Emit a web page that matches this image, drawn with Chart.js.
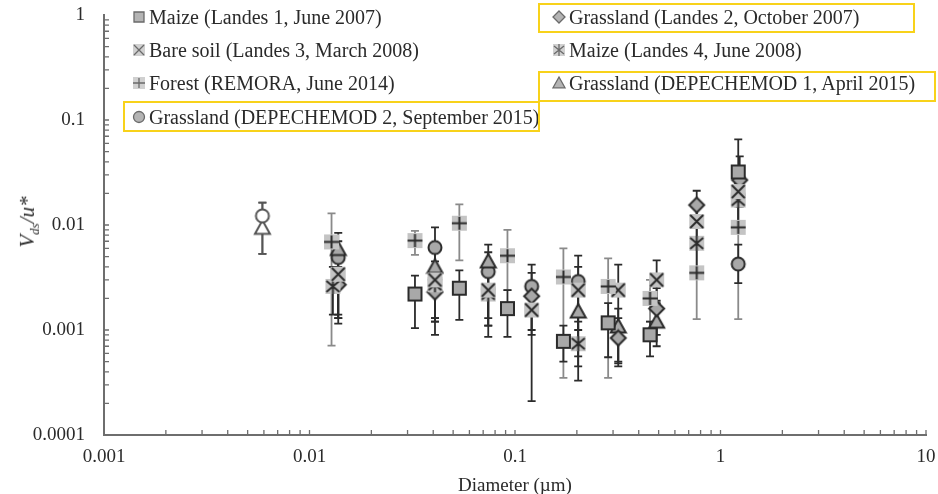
<!DOCTYPE html>
<html lang="en">
<head>
<meta charset="UTF-8">
<title>Vds/u* versus particle diameter</title>
<script src="https://cdn.jsdelivr.net/npm/chart.js"></script>
<style>
  body { margin: 0; background: #fff; font-family: 'Liberation Serif', 'DejaVu Serif', serif; color: #2a2a2a; }
  #wrap { position: relative; width: 938px; height: 494px; overflow: hidden; }
  #chart { position: absolute; left: 0; top: 0; }
  .leg { position: absolute; font-size: 20px; line-height: 22px; white-space: nowrap; display: flex; align-items: center; }
  .leg canvas { margin-right: 2px; }
  .box { position: absolute; border: 2.5px solid #f8d21a; box-sizing: border-box; }
  #ytitle { position: absolute; left: 29px; top: 222px; transform: translate(-50%, -50%) rotate(-90deg); font-size: 21px; font-style: italic; white-space: nowrap; }
  #ytitle sub { font-size: 13px; }
  #xtitle { position: absolute; left: 515px; top: 485px; transform: translate(-50%, -50%); font-size: 19px; white-space: nowrap; }
</style>
</head>
<body>
<div id="wrap">
  <canvas id="chart" width="938" height="494"></canvas>
  <div id="legend"></div>
  <div id="ytitle">V<sub>ds</sub>/u*</div>
  <div id="xtitle">Diameter (µm)</div>
</div>

<script>
  // axis labels
  const xTicks = [0.001, 0.01, 0.1, 1, 10];
  const yTicks = [0.0001, 0.001, 0.01, 0.1, 1];

  // each row: [diameter (µm), Vds/u*, lower bar, upper bar]
  const forestRemora = [
    [0.0128, 0.0069, 0.00071, 0.0129],
    [0.0326, 0.0071, 0.0052, 0.0088],
    [0.0536, 0.0104, 0.0046, 0.0157],
    [0.0919, 0.0051, 0.0024, 0.0090],
    [0.172, 0.0032, 0.00035, 0.0060],
    [0.284, 0.0026, 0.00035, 0.0048],
    [0.454, 0.0020, 0.0012, 0.0030],
    [0.766, 0.0035, 0.00127, 0.0060],
    [1.22, 0.0095, 0.00127, 0.0150]
  ];
  const maizeLandes1 = [
    [0.0326, 0.0022, 0.00104, 0.0033],
    [0.0536, 0.0025, 0.00125, 0.0037],
    [0.0919, 0.0016, 0.00086, 0.0024],
    [0.172, 0.00078, 0.0005, 0.0011],
    [0.284, 0.00117, 0.00055, 0.0018],
    [0.454, 0.0009, 0.00056, 0.0012],
    [1.22, 0.032, 0.018, 0.0655]
  ];
  const bareSoilLandes3 = [
    [0.0138, 0.0034, 0.00115, 0.0050],
    [0.0408, 0.0030, 0.0009, 0.0045],
    [0.0741, 0.0024, 0.00086, 0.0035],
    [0.1205, 0.00155, 0.00021, 0.0028],
    [0.203, 0.0024, 0.00056, 0.0040],
    [0.318, 0.0024, 0.00048, 0.0042],
    [0.489, 0.0030, 0.0018, 0.0046],
    [0.766, 0.0108, 0.0060, 0.0160],
    [1.22, 0.0208, 0.0100, 0.0300]
  ];
  const maizeLandes4 = [
    [0.0130, 0.0026, 0.0014, 0.0040],
    [0.0408, 0.0027, 0.0012, 0.0040],
    [0.0741, 0.0022, 0.0011, 0.0033],
    [0.203, 0.00074, 0.00033, 0.0012],
    [0.766, 0.0067, 0.0035, 0.0100],
    [1.22, 0.0173, 0.0090, 0.0250]
  ];
  const grassLandes2 = [
    [0.0138, 0.0027, 0.0013, 0.0040],
    [0.0408, 0.0023, 0.0013, 0.0035],
    [0.1205, 0.0021, 0.0009, 0.0035],
    [0.318, 0.00084, 0.00045, 0.0013],
    [0.489, 0.0016, 0.0009, 0.0025],
    [0.766, 0.0155, 0.0100, 0.0212],
    [1.24, 0.0268, 0.0150, 0.0450]
  ];
  const grassDep1 = [
    [0.0138, 0.0059, 0.0013, 0.0084],
    [0.0408, 0.0040, 0.0012, 0.0060],
    [0.0741, 0.0045, 0.0011, 0.0065],
    [0.203, 0.0015, 0.00045, 0.0025],
    [0.318, 0.00108, 0.0005, 0.0016],
    [0.489, 0.0012, 0.0007, 0.0019]
  ];
  const grassDep2 = [
    [0.0138, 0.0049, 0.0014, 0.0070],
    [0.0408, 0.0061, 0.0013, 0.0095],
    [0.0741, 0.0036, 0.0013, 0.0055],
    [0.1205, 0.0026, 0.0010, 0.0042],
    [0.203, 0.0029, 0.0010, 0.0051],
    [1.22, 0.00425, 0.0028, 0.0065]
  ];
  const openCircle = [[0.0059, 0.0122, 0.0053, 0.0163]];
  const openTriangle = [[0.0059, 0.0094, 0.0053, 0.0163]];

  const DARK = '#2b2b2b', FILL = '#a8a8a8', SHADE = '#c4c4c4';

  // marker pictures used as Chart.js point styles
  function marker(kind, s, o) {
    const pad = 2, w = s + pad * 2;
    const c = document.createElement('canvas');
    c.width = c.height = w;
    const g = c.getContext('2d');
    const m = w / 2, h = s / 2;
    g.lineWidth = o.lw; g.strokeStyle = o.stroke; g.fillStyle = o.fill;
    if (o.shade) {
      g.fillStyle = o.shade;
      g.fillRect(m - h, m - h, s, s);
      g.fillStyle = o.fill;
    }
    g.beginPath();
    if (kind === 'square') {
      g.rect(m - h + 1, m - h + 1, s - 2, s - 2); g.fill(); g.stroke();
    } else if (kind === 'diamond') {
      g.moveTo(m, m - h); g.lineTo(m + h, m); g.lineTo(m, m + h); g.lineTo(m - h, m); g.closePath();
      g.fill(); g.stroke();
    } else if (kind === 'triangle') {
      g.moveTo(m, m - h); g.lineTo(m + h, m + h * 0.8); g.lineTo(m - h, m + h * 0.8); g.closePath();
      g.fill(); g.stroke();
    } else if (kind === 'circle') {
      g.arc(m, m, h - 0.5, 0, Math.PI * 2); g.fill(); g.stroke();
    } else if (kind === 'cross') {
      g.moveTo(m - h + 1, m - h + 1); g.lineTo(m + h - 1, m + h - 1);
      g.moveTo(m + h - 1, m - h + 1); g.lineTo(m - h + 1, m + h - 1); g.stroke();
    } else if (kind === 'star') {
      g.moveTo(m - h + 1, m - h + 2); g.lineTo(m + h - 1, m + h - 2);
      g.moveTo(m + h - 1, m - h + 2); g.lineTo(m - h + 1, m + h - 2);
      g.moveTo(m, m - h); g.lineTo(m, m + h); g.stroke();
    } else if (kind === 'plus') {
      g.moveTo(m - h, m); g.lineTo(m + h, m);
      g.moveTo(m, m - h + 1); g.lineTo(m, m + h - 1); g.stroke();
    }
    return c;
  }

  const series = [
    { label: 'Forest (REMORA, June 2014)', rows: forestRemora, kind: 'plus', shade: true, bar: '#8a8a8a' },
    { label: 'Maize (Landes 1, June 2007)', rows: maizeLandes1, kind: 'square', bar: DARK },
    { label: 'Bare soil (Landes 3, March 2008)', rows: bareSoilLandes3, kind: 'cross', shade: true, bar: DARK },
    { label: 'Maize (Landes 4, June 2008)', rows: maizeLandes4, kind: 'star', shade: true, bar: DARK },
    { label: 'Grassland (Landes 2, October 2007)', rows: grassLandes2, kind: 'diamond', bar: DARK },
    { label: 'Grassland (DEPECHEMOD 1, April 2015)', rows: grassDep1, kind: 'triangle', bar: DARK },
    { label: 'Grassland (DEPECHEMOD 2, September 2015)', rows: grassDep2, kind: 'circle', bar: DARK },
    { label: '', rows: openCircle, kind: 'circle', open: true, bar: '#555' },
    { label: '', rows: openTriangle, kind: 'triangle', open: true, bar: '#555' }
  ];

  function plotMarker(sr) {
    const size = sr.kind === 'circle' ? 14 : 15;
    return marker(sr.kind, size, {
      lw: 2,
      stroke: sr.open ? '#555' : DARK,
      fill: sr.open ? '#fff' : FILL,
      shade: sr.shade ? SHADE : null
    });
  }

  // vertical error bars with caps
  const errorBars = {
    id: 'errorBars',
    beforeDatasetsDraw(chart) {
      const { ctx, scales: { x, y } } = chart;
      chart.data.datasets.forEach(ds => {
        ctx.save();
        ctx.strokeStyle = ds.barColor;
        ctx.lineWidth = 1.8;
        ds.data.forEach(p => {
          const px = x.getPixelForValue(p.x);
          const top = y.getPixelForValue(p.hi), bot = y.getPixelForValue(p.lo);
          ctx.beginPath();
          ctx.moveTo(px, top); ctx.lineTo(px, bot);
          ctx.moveTo(px - 4, top); ctx.lineTo(px + 4, top);
          ctx.moveTo(px - 4, bot); ctx.lineTo(px + 4, bot);
          ctx.stroke();
        });
        ctx.restore();
      });
    }
  };

  // Excel style tick marks pointing into the plot
  const innerTicks = {
    id: 'innerTicks',
    beforeDatasetsDraw(chart) {
      const { ctx, chartArea: a, scales: { x, y } } = chart;
      ctx.save();
      ctx.strokeStyle = '#6e6e6e';
      ctx.lineWidth = 1.3;
      ctx.beginPath();
      yTicks.slice(0, -1).forEach(d => {
        for (let k = 1; k <= 9; k++) {
          const py = y.getPixelForValue(d * k);
          ctx.moveTo(a.left, py); ctx.lineTo(a.left + 5, py);
        }
      });
      xTicks.slice(0, -1).forEach(d => {
        for (let k = 2; k <= 10; k++) {
          const px = x.getPixelForValue(d * k);
          ctx.moveTo(px, a.bottom); ctx.lineTo(px, a.bottom - 5);
        }
      });
      ctx.stroke();
      ctx.restore();
    }
  };

  const tickFont = { family: "'Liberation Serif', serif", size: 19 };

  new Chart(document.getElementById('chart'), {
    type: 'scatter',
    data: {
      datasets: series.map(sr => ({
        label: sr.label,
        data: sr.rows.map(r => ({ x: r[0], y: r[1], lo: r[2], hi: r[3] })),
        pointStyle: plotMarker(sr),
        pointRadius: 8,
        barColor: sr.bar
      }))
    },
    options: {
      responsive: false,
      animation: false,
      layout: { padding: { left: 0, right: 12, top: 15, bottom: 0 } },
      plugins: { legend: { display: false }, tooltip: { enabled: false } },
      scales: {
        x: {
          type: 'logarithmic', min: 0.001, max: 10,
          afterBuildTicks: s => { s.ticks = xTicks.map(v => ({ value: v })); },
          afterFit: s => { s.height = 59; s.paddingLeft = 0; s.paddingRight = 0; },
          grid: { display: false, drawTicks: false },
          border: { display: true, color: '#6e6e6e', width: 2 },
          ticks: { color: '#2a2a2a', font: tickFont, padding: 11, maxRotation: 0, autoSkip: false, callback: v => String(v) }
        },
        y: {
          type: 'logarithmic', min: 0.0001, max: 1,
          afterBuildTicks: s => { s.ticks = yTicks.map(v => ({ value: v })); },
          afterFit: s => { s.width = 104; s.paddingTop = 0; s.paddingBottom = 0; },
          grid: { display: false, drawTicks: false },
          border: { display: true, color: '#6e6e6e', width: 2 },
          ticks: { color: '#2a2a2a', font: tickFont, padding: 19, autoSkip: false, callback: v => String(v) }
        }
      }
    },
    plugins: [errorBars, innerTicks]
  });

  // legend, laid out as in the original figure
  const legendItems = [
    { ser: 1, left: 131, top: 17 }, { ser: 4, left: 551, top: 17 },
    { ser: 2, left: 131, top: 50 }, { ser: 3, left: 551, top: 50 },
    { ser: 0, left: 131, top: 83 }, { ser: 5, left: 551, top: 83 },
    { ser: 6, left: 131, top: 117 }
  ];
  const legendBoxes = [
    { left: 538, top: 3, width: 377, height: 30 },
    { left: 538, top: 71, width: 398, height: 31 },
    { left: 123, top: 101, width: 417, height: 31 }
  ];
  const legend = document.getElementById('legend');
  legendItems.forEach(it => {
    const sr = series[it.ser];
    const row = document.createElement('div');
    row.className = 'leg';
    row.style.left = it.left + 'px';
    row.style.top = (it.top - 11) + 'px';
    row.appendChild(marker(sr.kind, 12, { lw: 1.3, stroke: '#6a6a6a', fill: '#b4b4b4', shade: sr.shade ? '#d0d0d0' : null }));
    row.appendChild(document.createTextNode(sr.label));
    legend.appendChild(row);
  });
  legendBoxes.forEach(b => {
    const d = document.createElement('div');
    d.className = 'box';
    Object.assign(d.style, { left: b.left + 'px', top: b.top + 'px', width: b.width + 'px', height: b.height + 'px' });
    legend.appendChild(d);
  });
</script>
</body>
</html>
